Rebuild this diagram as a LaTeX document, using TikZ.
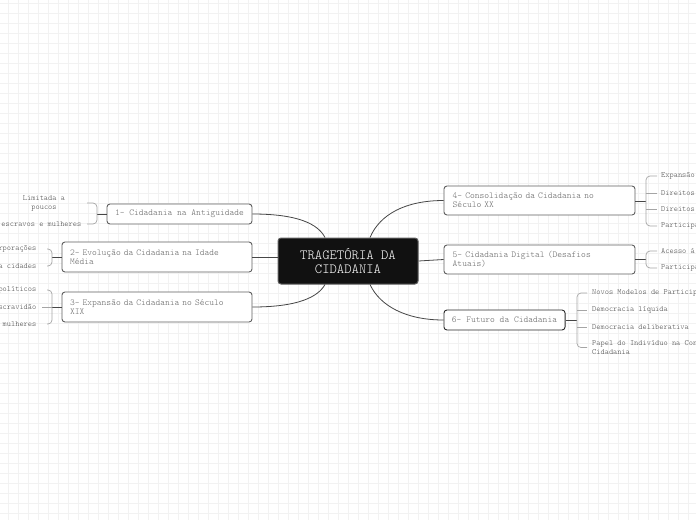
\documentclass[tikz,border=0pt]{standalone}
\usepackage{fontspec}
\setmonofont{Latin Modern Mono Light}
\definecolor{gridc}{RGB}{242,242,242}
\definecolor{boxgray}{RGB}{95,95,95}
\definecolor{boxdark}{RGB}{40,40,40}
\definecolor{txtgray}{RGB}{100,100,100}
\definecolor{leafgray}{RGB}{70,70,70}
\definecolor{linkc}{RGB}{70,70,70}
\definecolor{brk}{RGB}{165,165,165}
\definecolor{centralfill}{RGB}{17,17,17}
\begin{document}
\begin{tikzpicture}[x=1pt,y=-1pt,
  topic/.style={draw=boxgray, line width=0.9pt, rounded corners=3pt, fill=white,
    font=\ttfamily\fontsize{9.1}{9}\selectfont, text=txtgray, inner xsep=8pt, inner ysep=0pt},
  multi/.style={topic, align=left},
  central/.style={draw=boxgray, line width=1pt, rounded corners=3pt, fill=centralfill,
    font=\ttfamily\fontsize{14}{14}\selectfont, text=white, align=center,
    minimum width=140pt, minimum height=46pt, inner sep=0pt},
  leaf/.style={font=\ttfamily\fontsize{8}{8.7}\selectfont, text=leafgray, inner sep=0pt},
  link/.style={draw=linkc, line width=0.8pt},
  bracket/.style={draw=brk, line width=0.7pt, rounded corners=4pt},
  gridline/.style={draw=gridc, line width=0.5pt}
]
\useasboundingbox (0,0) rectangle (696,520);
\clip (0,0) rectangle (696,520);
\fill[white] (0,0) rectangle (696,520);
\foreach \gx in {0,...,69} { \draw[gridline] (8.3+10*\gx,0) -- (8.3+10*\gx,520); }
\foreach \gy in {0,...,51} { \draw[gridline] (0,3.3+10*\gy) -- (696,3.3+10*\gy); }

% central
\node[central] (c) at (348,261) {TRAGETÓRIA DA\\ CIDADANIA};

% topics
\node[topic, minimum width=145pt, minimum height=20pt] (n1) at (179.5,214) {1- Cidadania na Antiguidade};
\node[multi, text width=174pt, minimum height=30pt] (n2) at (157,257) {2- Evolução da Cidadania na Idade\\Média};
\node[multi, text width=174pt, minimum height=30pt] (n3) at (157,307) {3- Expansão da Cidadania no Século\\XIX};
\node[multi, text width=173.6pt, inner xsep=8.7pt, minimum height=29pt] (n4) at (539.5,200.5) {4- Consolidação da Cidadania no\\Século XX};
\node[multi, text width=173.6pt, inner xsep=8.7pt, minimum height=29pt] (n5) at (539.5,259.5) {5- Cidadania Digital (Desafios\\Atuais)};
\node[topic, draw=boxdark, minimum width=121pt, minimum height=20pt] (n6) at (504.5,320) {6- Futuro da Cidadania};

% central links
\draw[link] (n1.east) .. controls (298,214) and (318,224) .. ([xshift=-23pt]c.north);
\draw[link] (n2.east) -- (n2.east -| c.west);
\draw[link] (n3.east) .. controls (298,307) and (318,297) .. ([xshift=-23pt]c.south);
\draw[link] ([xshift=22pt]c.north) .. controls (380,214) and (406,200.5) .. (n4.west);
\draw[link] (c.east) .. controls (431,261) and (431,259.5) .. (n5.west);
\draw[link] ([xshift=22pt]c.south) .. controls (380,306) and (406,320) .. (n6.west);

% bracket anchors
\coordinate (b1) at (97,214);
\coordinate (b2) at (52,257);
\coordinate (b3) at (52,307);
\coordinate (b4) at (646,201);
\coordinate (b5) at (646,259.5);
\coordinate (b6) at (577,320);
\draw[link] (n1.west) -- (b1);
\draw[link] (n2.west) -- (b2);
\draw[link] (n3.west) -- (b3);
\draw[link] (n4.east |- b4) -- (b4);
\draw[link] (n5.east |- b5) -- (b5);
\draw[link] (n6.east) -- (b6);

% brackets
\draw[bracket] (87,203) -- (97,203) -- (97,224) -- (87,224);
\draw[bracket] (47,249) -- (52,249) -- (52,266) -- (47,266);
\draw[bracket] (47,290) -- (52,290) -- (52,324) -- (47,324);
\draw[bracket] (42,307) -- (52,307);
\draw[bracket] (657,176) -- (646,176) -- (646,226) -- (657,226);
\draw[bracket] (646,193) -- (657,193);
\draw[bracket] (646,209.5) -- (657,209.5);
\draw[bracket] (657,251) -- (646,251) -- (646,268) -- (657,268);
\draw[bracket] (587,293) -- (577,293) -- (577,347.5) -- (587,347.5);
\draw[bracket] (577,310) -- (587,310);
\draw[bracket] (577,327) -- (587,327);

% left leaves
\node[leaf, align=center] (l11) at (44,203.5) {Limitada a\\poucos};
\node[leaf, anchor=east] (l12) at (81.5,224) {escravos e mulheres};
\node[leaf, anchor=east] (l21) at (36.5,249) {rporações};
\node[leaf, anchor=east] (l22) at (36.5,266) {a cidades};
\node[leaf, anchor=east] (l31) at (36.5,290) {políticos};
\node[leaf, anchor=east] (l32) at (36.5,307) {scravidão};
\node[leaf, anchor=east] (l33) at (36.5,324) {mulheres};

% right leaves
\node[leaf, anchor=west] (l41) at (661,176) {Expansão};
\node[leaf, anchor=west] (l42) at (661,193) {Direitos};
\node[leaf, anchor=west] (l43) at (661,209.5) {Direitos};
\node[leaf, anchor=west] (l44) at (661,226) {Participa};
\node[leaf, anchor=west] (l51) at (661,251) {Acesso à};
\node[leaf, anchor=west] (l52) at (661,268) {Participa};
\node[leaf, anchor=west] (l61) at (592,293) {Novos Modelos de Particip};
\node[leaf, anchor=west] (l62) at (592,310) {Democracia líquida};
\node[leaf, anchor=west] (l63) at (592,327) {Democracia deliberativa};
\node[leaf, anchor=west, align=left] (l64) at (592,347.5) {Papel do Indivíduo na Con\\Cidadania};
\end{tikzpicture}
\end{document}
